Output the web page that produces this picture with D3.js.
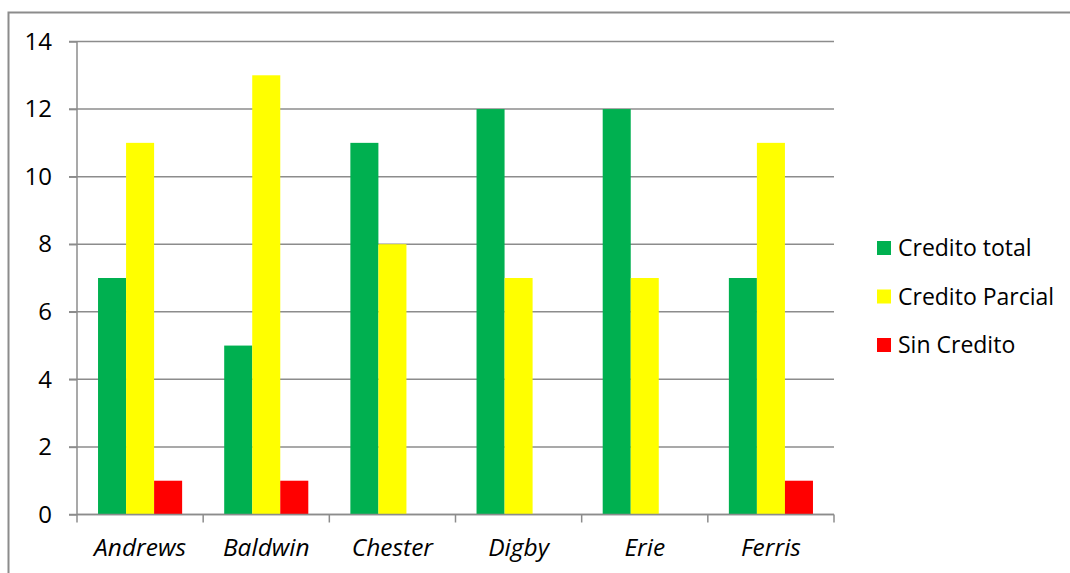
<!DOCTYPE html>
<html><head><meta charset="utf-8">
<script src="https://cdn.jsdelivr.net/npm/d3@7"></script>
<style>
html,body{margin:0;padding:0;background:#fff;overflow:hidden}
svg{display:block;font-family:"Open Sans",Lato,sans-serif}
</style></head>
<body><svg id="c" width="1070" height="573"></svg>
<script>
const categories = ["Andrews","Baldwin","Chester","Digby","Erie","Ferris"];
const seriesNames = ["Credito total","Credito Parcial","Sin Credito"];
const creditoTotal = [7,5,11,12,12,7];
const creditoParcial = [11,13,8,7,7,11];
const sinCredito = [1,1,0,0,0,1];
const colors = ["#00B050","#FFFF00","#FF0000"];
const yTicks = [0,2,4,6,8,10,12,14];

const series = [creditoTotal, creditoParcial, sinCredito];
const svg = d3.select("#c");
const FONT = "'Open Sans',Lato,sans-serif";

svg.append("rect").attr("x",8.5).attr("y",12.5).attr("width",1100).attr("height",600)
  .attr("fill","none").attr("stroke","#8c8c8c").attr("stroke-width",2);

const L=77, R=834, T=41.5, B=514.5;
const x0 = d3.scaleBand().domain(categories).range([L,R]).paddingInner(0).paddingOuter(0);
const y = d3.scaleLinear().domain([0,14]).range([B,T]);
const bw = x0.bandwidth();
const x1 = d3.scaleBand().domain(seriesNames).range([bw*0.1667, bw*0.8333]).padding(0);

svg.append("g").selectAll("line").data(yTicks).join("line")
  .attr("x1",L-8).attr("x2",R).attr("y1",d=>y(d)).attr("y2",d=>y(d))
  .attr("stroke","#8c8c8c").attr("stroke-width",1.5);

const g = svg.append("g");
categories.forEach((c,i)=>{
  seriesNames.forEach((s,j)=>{
    const v = series[j][i];
    if(v<=0) return;
    g.append("rect").attr("x",x0(c)+x1(s)).attr("y",y(v))
      .attr("width",x1.bandwidth()).attr("height",B-y(v)).attr("fill",colors[j]);
  });
});

const ya = svg.append("g").attr("transform",`translate(${L},0)`)
  .call(d3.axisLeft(y).tickValues(yTicks).tickSize(8).tickPadding(17).tickFormat(d3.format("d")));
ya.select(".domain").attr("stroke","#8c8c8c").attr("stroke-width",1.5).attr("d",`M0,${T}V${B}`);
ya.selectAll(".tick line").attr("stroke","#8c8c8c").attr("stroke-width",1.5);
ya.selectAll("text").attr("font-size",24).attr("fill","#000").attr("font-family",FONT);

const xa = svg.append("g").attr("transform",`translate(0,${B})`)
  .call(d3.axisBottom(x0).tickSize(0).tickPadding(24));
xa.select(".domain").attr("stroke","#8c8c8c").attr("stroke-width",1.5).attr("d",`M${L},0H${R}`);
xa.selectAll("text").attr("font-size",24.5).attr("font-style","italic").attr("fill","#000")
  .attr("font-family",FONT);
const bounds = categories.map(c=>x0(c)).concat([R]);
svg.append("g").selectAll("line").data(bounds).join("line")
  .attr("x1",d=>d).attr("x2",d=>d).attr("y1",B).attr("y2",B+8)
  .attr("stroke","#8c8c8c").attr("stroke-width",1.5);

const lg = svg.append("g");
seriesNames.forEach((s,j)=>{
  const cy = 248 + j*48.5;
  lg.append("rect").attr("x",877).attr("y",cy-7).attr("width",14).attr("height",14).attr("fill",colors[j]);
  lg.append("text").attr("x",898).attr("y",cy).attr("dy","0.35em").attr("font-size",23)
    .attr("font-family",FONT).attr("fill","#000").text(s);
});
</script></body></html>
